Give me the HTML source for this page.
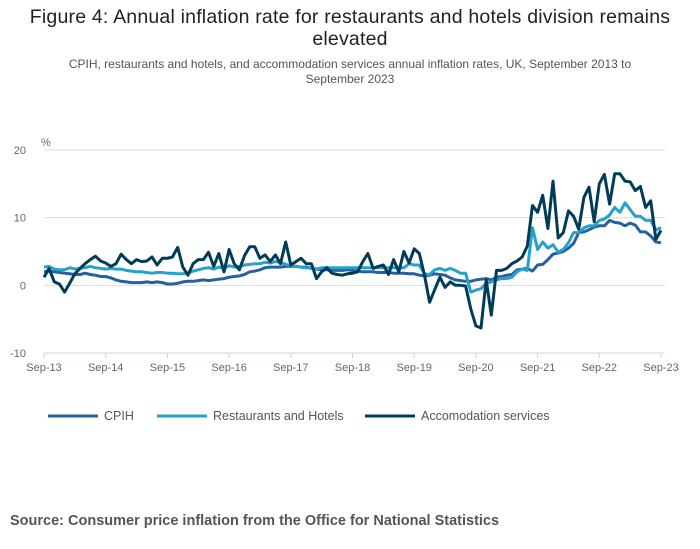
<!DOCTYPE html>
<html><head><meta charset="utf-8"><style>
body{margin:0;background:#fff;font-family:"Liberation Sans",sans-serif;}
#wrap{position:relative;width:700px;height:549px;overflow:hidden}
h1{position:absolute;top:6px;left:20px;width:660px;margin:0;text-align:center;font-weight:normal;font-size:19.5px;line-height:22px;color:#222;letter-spacing:0.2px}
.sub{position:absolute;top:57px;left:40px;width:620px;text-align:center;font-size:12px;line-height:15px;color:#555}
.src{position:absolute;top:513px;left:10px;font-size:14.5px;font-weight:bold;color:#555}
</style></head><body>
<div id="wrap">
<h1>Figure 4: Annual inflation rate for restaurants and hotels division remains elevated</h1>
<div class="sub">CPIH, restaurants and hotels, and accommodation services annual inflation rates, UK, September 2013 to September 2023</div>
<svg id="chart" width="700" height="549" style="position:absolute;left:0;top:0"></svg>
<div class="src">Source: Consumer price inflation from the Office for National Statistics</div>
</div>
<script>
const xTickLabels=["Sep-13","Sep-14","Sep-15","Sep-16","Sep-17","Sep-18","Sep-19","Sep-20","Sep-21","Sep-22","Sep-23"];
const yTicks=[20,10,0,-10];
const cpih=[2.0,2.1,2.0,1.9,1.8,1.7,1.6,1.6,1.8,1.6,1.5,1.3,1.3,1.1,0.8,0.6,0.5,0.4,0.4,0.4,0.5,0.4,0.5,0.4,0.2,0.2,0.3,0.5,0.6,0.6,0.7,0.8,0.7,0.8,0.9,1.0,1.2,1.3,1.4,1.6,2.0,2.1,2.3,2.6,2.7,2.7,2.7,2.8,2.8,2.8,2.7,2.7,2.5,2.4,2.3,2.3,2.2,2.2,2.2,2.3,2.2,2.1,2.0,2.0,2.0,1.9,1.9,1.9,1.8,1.8,1.8,1.7,1.7,1.5,1.4,1.5,1.7,1.6,1.5,1.1,0.8,0.7,0.6,0.6,0.8,0.9,1.0,0.8,1.2,1.3,1.5,1.6,2.3,2.4,2.5,2.1,3.0,3.1,3.8,4.6,4.8,5.0,5.5,6.2,7.8,7.9,8.2,8.6,8.8,8.8,9.6,9.3,9.2,8.8,9.2,8.9,7.9,7.9,7.3,6.4,6.3];
const restaurants=[2.7,2.8,2.4,2.3,2.3,2.6,2.4,2.5,2.6,2.8,2.6,2.5,2.4,2.5,2.4,2.4,2.2,2.1,2.0,2.0,1.9,1.8,1.9,1.9,1.8,1.8,1.7,1.7,1.8,2.1,2.3,2.5,2.6,2.4,2.7,2.5,2.9,2.7,2.8,3.0,3.1,3.2,3.2,3.4,3.3,3.5,3.4,3.1,2.9,2.8,2.7,2.6,2.6,2.4,2.6,2.6,2.6,2.6,2.6,2.6,2.6,2.6,2.6,2.6,2.6,2.6,2.6,2.6,2.6,2.6,2.6,3.2,3.0,3.0,1.7,1.6,2.3,2.5,2.2,2.5,2.2,1.8,1.8,-1.0,-0.7,-0.5,0.3,0.5,0.8,1.0,1.0,1.2,2.0,2.4,2.2,8.5,5.3,6.4,5.5,6.0,4.9,5.3,6.3,7.8,7.8,8.5,8.8,8.8,9.6,9.8,10.4,11.5,10.8,12.2,11.2,10.2,10.2,9.6,9.6,8.2,8.5];
const accommodation=[1.2,2.5,0.5,0.2,-1,0.3,1.7,2.5,3.2,3.8,4.3,3.6,3.3,2.8,3.2,4.6,3.8,3.2,3.8,3.5,3.6,4.2,3.0,4.0,4.0,4.2,5.6,2.7,1.5,3.2,3.8,3.8,4.9,2.8,4.7,2.0,5.3,3.2,2.3,4.4,5.7,5.7,4.0,4.5,3.5,4.5,3.2,6.4,3.0,3.5,4.0,3.2,3.2,1.0,2.0,2.6,1.8,1.6,1.5,1.7,1.8,2.0,3.5,4.7,2.5,2.8,3.0,1.6,3.8,2.0,5.0,3.3,5.4,4.7,1.5,-2.5,-0.6,1.2,-0.3,0.5,0.0,0.0,-0.1,-3.5,-6.0,-6.3,0.8,-4.4,2.2,2.2,2.5,3.2,3.6,4.2,5.8,11.8,10.8,13.3,8.4,15.4,7.0,7.8,11.0,10.2,8.3,13.0,14.5,9.4,15.0,16.4,12.0,16.5,16.5,15.4,15.3,14.0,14.6,11.5,12.5,6.8,8.1];
const NS="http://www.w3.org/2000/svg";
const svg=document.getElementById('chart');
const x0=44,x1=661,yTop=150,yBot=353;
const X=i=>x0+(x1-x0)*i/120;
const Y=v=>yBot-(v+10)*(yBot-yTop)/30;
function mk(t,a){const e=document.createElementNS(NS,t);for(const k in a)e.setAttribute(k,a[k]);svg.appendChild(e);return e;}
yTicks.forEach(v=>{
 const g=mk('line',{x1:x0,x2:665,y1:Y(v),y2:Y(v),stroke:'#ddd','stroke-width':1});
 
 
 const t=mk('text',{x:26,y:Y(v)+4,'text-anchor':'end','font-size':'11','fill':'#666','font-family':'Liberation Sans, sans-serif'});
 t.textContent=v;
 
 
});
const pu=mk('text',{x:41,y:146,'font-size':'11','fill':'#666','font-family':'Liberation Sans, sans-serif'});pu.textContent='%';


const ax=mk('line',{x1:x0,x2:x1,y1:yBot,y2:yBot,stroke:'#c8d4e6','stroke-width':1});


xTickLabels.forEach((l,k)=>{
 const xx=X(k*12);
 const tk=mk('line',{x1:xx,x2:xx,y1:yBot,y2:yBot+5,stroke:'#c8d4e6'});
 
 
 const t=mk('text',{x:xx,y:371,'text-anchor':'middle','font-size':'11','fill':'#666','font-family':'Liberation Sans, sans-serif'});
 t.textContent=l;
 
 
});
const series=[[cpih,'#27609f','cpih-line'],[restaurants,'#27a0cc','restaurants-hotels-line'],[accommodation,'#003c57','accommodation-line']];
series.forEach(([d,c,n])=>{
 const p=mk('path',{d:d.map((v,i)=>(i?'L':'M')+X(i).toFixed(1)+' '+Y(v).toFixed(1)).join(' '),fill:'none',stroke:c,'stroke-width':3,'stroke-linejoin':'round'});
 
 
});
const leg=[['CPIH','#27609f',48],['Restaurants and Hotels','#27a0cc',157],['Accomodation services','#003c57',365]];
leg.forEach(([l,c,x])=>{
 const ln=mk('line',{x1:x,x2:x+50,y1:416,y2:416,stroke:c,'stroke-width':3});
 
 
 const t=mk('text',{x:x+56,y:420,'font-size':'12.5','fill':'#555','font-family':'Liberation Sans, sans-serif'});
 t.textContent=l;
 
 
});
</script>
</body></html>
